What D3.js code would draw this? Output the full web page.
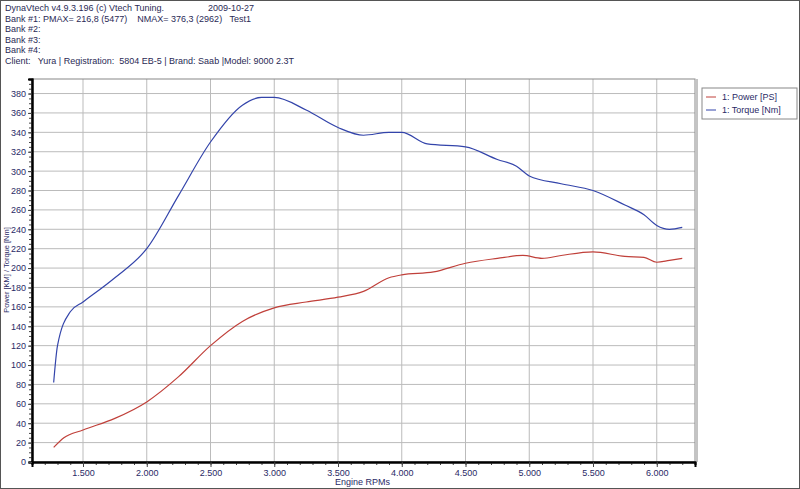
<!DOCTYPE html>
<html><head><meta charset="utf-8">
<script src="https://cdn.jsdelivr.net/npm/d3@7"></script>
<style>
body{margin:0;background:#fff;font-family:"Liberation Sans",Arial,sans-serif}
svg text{font-family:"Liberation Sans",Arial,sans-serif;white-space:pre}
</style></head><body>
<svg id="graph"></svg>
<script>
const rpm = [1270, 1300, 1400, 1500, 1750, 2000, 2250, 2500, 2750, 2900, 3000, 3250, 3500, 3700, 3900, 4000, 4200, 4500, 4750, 4900, 5000, 5250, 5500, 5750, 5900, 6000, 6100, 6200]
const torque = [82, 120, 155, 165, 190, 220, 275, 330, 368, 376, 376, 363, 345, 337, 340, 340, 328, 325, 312, 305, 295, 287, 280, 265, 255, 244, 240, 242]
const powerRpm = [1270, 1350, 1500, 1750, 2000, 2250, 2500, 2750, 3000, 3250, 3500, 3700, 3900, 4000, 4250, 4500, 4750, 4950, 5100, 5250, 5500, 5750, 5900, 6000, 6100, 6200]
const power = [15, 25, 33, 45, 62, 88, 120, 145, 159, 165, 170, 176, 190, 193, 196, 205, 210, 213, 210, 213, 216.8, 212, 211, 206, 208, 210]
const xTicks = [1500, 2000, 2500, 3000, 3500, 4000, 4500, 5000, 5500, 6000]
const yTicks = d3.range(0, 381, 20)
const header = ['DynaVtech v4.9.3.196 (c) Vtech Tuning.', 'Bank #1: PMAX= 216,8 (5477)    NMAX= 376,3 (2962)   Test1', 'Bank #2:', 'Bank #3:', 'Bank #4:', 'Client:   Yura | Registration:  5804 EB-5 | Brand: Saab |Model: 9000 2.3T']

const width = 800, height = 489
const svg = d3.select('#graph').attr('width', width).attr('height', height)
const pLeft = 32, pRight = 695, pTop = 79, pBottom = 462

const x = d3.scaleLinear().domain([1100, 6300]).range([pLeft, pRight])
const y = d3.scaleLinear().domain([0, 395]).range([pBottom, pTop])

svg.append('rect').attr('x', 0.5).attr('y', 0.5).attr('width', width - 1).attr('height', height - 1)
  .attr('fill', 'none').attr('stroke', '#555')

header.forEach((t, i) => {
  svg.append('text').attr('x', 5).attr('y', 11 + i * 10.5).attr('font-size', 9).attr('fill', '#2a2a55').text(t)
})
svg.append('text').attr('x', 208).attr('y', 11).attr('font-size', 9).attr('fill', '#2a2a55').text('2009-10-27')

// grid
svg.append('g').selectAll('line').data(xTicks).enter().append('line')
  .attr('x1', d => x(d)).attr('x2', d => x(d)).attr('y1', pTop).attr('y2', pBottom)
  .attr('stroke', '#bbb')
svg.append('g').selectAll('line').data(yTicks.slice(1)).enter().append('line')
  .attr('x1', pLeft).attr('x2', pRight).attr('y1', d => y(d)).attr('y2', d => y(d))
  .attr('stroke', '#bbb')

svg.append('rect').attr('x', pLeft).attr('y', pTop).attr('width', pRight - pLeft).attr('height', pBottom - pTop)
  .attr('fill', 'none').attr('stroke', '#888')

svg.append('g').attr('transform', `translate(0,${pBottom})`)
  .call(d3.axisBottom(x).tickValues(d3.range(1100, 6301, 100)).tickSize(3).tickFormat(''))
svg.append('g').attr('transform', `translate(0,${pBottom})`)
  .call(d3.axisBottom(x).tickValues(xTicks).tickSize(5).tickFormat(d => d3.format(',')(d).replace(',', '.')))
svg.append('g').attr('transform', `translate(${pLeft},0)`)
  .call(d3.axisLeft(y).tickValues(d3.range(0, 391, 5)).tickSize(3).tickFormat(''))
svg.append('g').attr('transform', `translate(${pLeft},0)`)
  .call(d3.axisLeft(y).tickValues(yTicks).tickSize(4).tickPadding(2))
svg.selectAll('.domain').attr('stroke', '#000').attr('stroke-width', 2)
svg.selectAll('.tick text').attr('font-size', 9).attr('fill', '#2a2a66').attr('font-family', '"Liberation Sans",Arial')
svg.selectAll('.tick line').attr('stroke', '#444')

svg.append('text').attr('x', 390).attr('y', 485).attr('font-size', 9).attr('fill', '#2a2a66')
  .attr('text-anchor', 'end').text('Engine RPMs')
svg.append('text').attr('transform', 'translate(9,270) rotate(-90)').attr('font-size', 7.5).attr('fill', '#2a2a66')
  .attr('text-anchor', 'middle').text('Power [KM] / Torque [Nm]')

const line = d3.line().x(d => x(d[0])).y(d => y(d[1])).curve(d3.curveMonotoneX)
svg.append('path').datum(d3.zip(rpm, torque)).attr('d', line)
  .attr('fill', 'none').attr('stroke', '#3344aa').attr('stroke-width', 1.2)
svg.append('path').datum(d3.zip(powerRpm, power)).attr('d', line)
  .attr('fill', 'none').attr('stroke', '#c0403a').attr('stroke-width', 1.2)

// legend panel
svg.append('line').attr('x1', 697).attr('x2', 697).attr('y1', pTop).attr('y2', pBottom).attr('stroke', '#888')
const lg = svg.append('g').attr('transform', 'translate(702,88)')
lg.append('rect').attr('width', 95).attr('height', 31).attr('fill', '#fff').attr('stroke', '#888')
const items = [['1: Power [PS]', '#c0403a'], ['1: Torque [Nm]', '#3344aa']]
items.forEach((it, i) => {
  lg.append('line').attr('x1', 4).attr('x2', 14).attr('y1', 9 + i * 13).attr('y2', 9 + i * 13).attr('stroke', it[1])
  lg.append('text').attr('x', 20).attr('y', 12 + i * 13).attr('font-size', 9).attr('fill', '#2a2a66').text(it[0])
})
</script></body></html>
